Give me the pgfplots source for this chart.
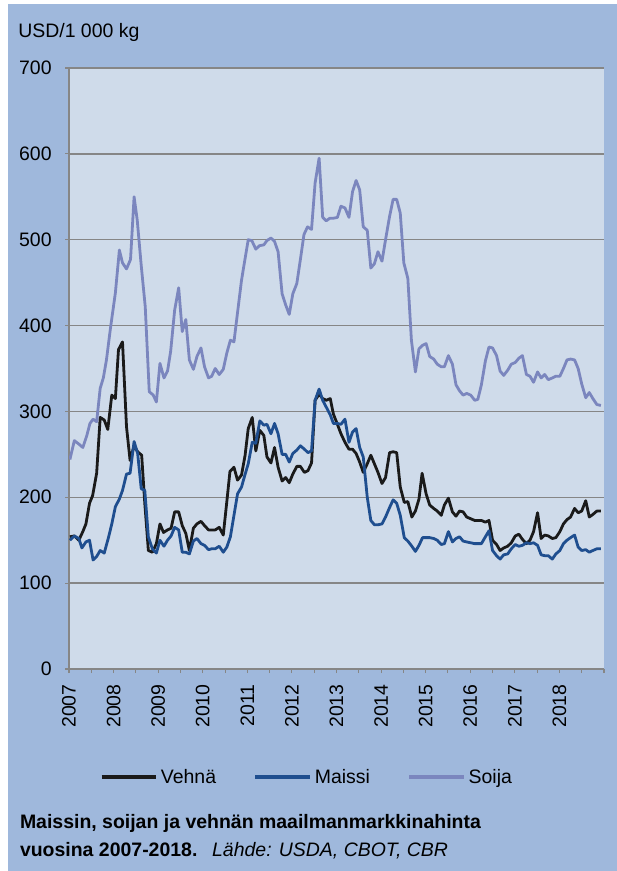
\documentclass[border=0pt]{standalone}
\usepackage{fontspec}
\setmainfont{Liberation Sans}
\usepackage{pgfplots}
\pgfplotsset{compat=1.18}
\definecolor{bgblue}{HTML}{9FB8DC}
\definecolor{plotbg}{HTML}{CFDBEA}
\definecolor{gridgray}{HTML}{868686}
\definecolor{vehna}{HTML}{1A1A1A}
\definecolor{maissi}{HTML}{1F4E8F}
\definecolor{soija}{HTML}{7B86BE}
\newcommand{\lblfont}{\fontsize{14.6}{17}\selectfont}
\begin{document}
\begin{tikzpicture}
\fill[white] (0,0) rectangle (462.75pt,653.25pt);
\fill[bgblue] (6pt,0) rectangle (462.75pt,650.25pt);
\useasboundingbox (0,0) rectangle (462.75pt,653.25pt);
\begin{axis}[
 at={(51.75pt,151.5pt)}, anchor=south west,
 scale only axis, width=401.25pt, height=450.75pt,
 xmin=2007, xmax=2019, ymin=0, ymax=700,
 axis x line*=bottom, axis y line*=left,
 axis line style={gridgray, line width=1.1pt, -},
 axis background/.style={fill=plotbg},
 xtick={2007,2008,2009,2010,2011,2012,2013,2014,2015,2016,2017,2018,2019},
 xticklabels={2007,2008,2009,2010,2011,2012,2013,2014,2015,2016,2017,2018,{}},
 minor xtick={2007.5,2008.5,2009.5,2010.5,2011.5,2012.5,2013.5,2014.5,2015.5,2016.5,2017.5,2018.5},
 ytick={0,100,200,300,400,500,600,700},
 ymajorgrids, grid style={gridgray, line width=1.1pt},
 tick align=outside, major tick length=3pt, minor tick length=3pt,
 tick style={gridgray, line width=0.8pt},
 /pgf/number format/assume math mode=true,
 ticklabel style={font=\lblfont},
 xticklabel style={yshift=-5pt, rotate=90, anchor=east},
 yticklabel style={xshift=-6.5pt, anchor=east},
 legend columns=3,
 legend style={at={(0.445,-0.18)}, anchor=center, draw=none, fill=none, font=\lblfont,
   /tikz/every even column/.append style={column sep=26pt}},
 legend image code/.code={\draw[#1, line width=3pt] (0pt,0pt) -- (41pt,0pt);},
 every axis plot/.append style={line width=2.1pt, line join=round},
]
\addplot[vehna] coordinates {
(2007.02,154)(2007.12,155)(2007.22,150)(2007.31,160)(2007.38,169)(2007.46,193)(2007.53,202)(2007.62,228)
(2007.70,293)(2007.79,290)(2007.87,279)(2007.96,319)(2008.04,315)(2008.11,372)(2008.20,381)(2008.29,282)
(2008.37,243)(2008.46,260)(2008.54,253)(2008.63,249)(2008.70,193)(2008.78,138)(2008.87,136)(2008.96,146)
(2009.04,169)(2009.12,159)(2009.21,162)(2009.29,164)(2009.37,183)(2009.46,183)(2009.54,167)(2009.62,158)
(2009.70,138)(2009.79,164)(2009.87,169)(2009.96,172)(2010.04,167)(2010.13,162)(2010.20,162)(2010.28,162)
(2010.37,165)(2010.46,156)(2010.54,195)(2010.61,230)(2010.70,235)(2010.78,220)(2010.87,226)(2010.95,249)
(2011.02,280)(2011.11,293)(2011.19,254)(2011.28,278)(2011.37,272)(2011.44,247)(2011.53,240)(2011.61,258)
(2011.69,235)(2011.78,219)(2011.86,223)(2011.94,217)(2012.02,227)(2012.11,236)(2012.19,236)(2012.28,229)
(2012.36,231)(2012.44,240)(2012.52,313)(2012.61,320)(2012.69,315)(2012.77,313)(2012.86,315)(2012.93,297)
(2013.02,285)(2013.10,274)(2013.19,264)(2013.28,256)(2013.36,256)(2013.44,251)(2013.52,241)(2013.60,229)
(2013.69,239)(2013.77,249)(2013.85,239)(2013.93,229)(2014.02,216)(2014.10,223)(2014.19,252)(2014.27,253)
(2014.35,252)(2014.43,212)(2014.52,194)(2014.60,195)(2014.69,177)(2014.77,184)(2014.85,198)(2014.92,228)
(2015.01,204)(2015.09,191)(2015.18,187)(2015.26,184)(2015.35,179)(2015.42,191)(2015.51,199)(2015.60,183)
(2015.68,178)(2015.76,184)(2015.84,183)(2015.92,177)(2016.01,175)(2016.10,173)(2016.17,173)(2016.25,173)
(2016.34,171)(2016.42,173)(2016.50,150)(2016.59,145)(2016.67,138)(2016.75,141)(2016.84,143)(2016.92,147)
(2017.01,155)(2017.09,157)(2017.17,151)(2017.26,146)(2017.34,150)(2017.42,160)(2017.51,182)(2017.59,152)
(2017.67,156)(2017.75,155)(2017.84,152)(2017.92,153)(2018.01,160)(2018.09,169)(2018.17,174)(2018.25,177)
(2018.34,187)(2018.42,182)(2018.50,184)(2018.59,196)(2018.67,177)(2018.75,180)(2018.84,184)(2018.93,184)
};
\addlegendentry{Vehnä}
\addplot[maissi] coordinates {
(2007.02,150)(2007.12,155)(2007.22,152)(2007.29,141)(2007.38,148)(2007.46,150)(2007.54,127)(2007.62,131)
(2007.70,138)(2007.79,135)(2007.89,154)(2007.96,169)(2008.04,189)(2008.13,198)(2008.20,208)(2008.29,227)
(2008.37,228)(2008.46,265)(2008.54,251)(2008.62,210)(2008.70,208)(2008.78,154)(2008.87,140)(2008.96,135)
(2009.04,150)(2009.13,143)(2009.21,150)(2009.29,155)(2009.37,165)(2009.46,162)(2009.54,136)(2009.62,136)
(2009.70,134)(2009.79,149)(2009.87,152)(2009.96,146)(2010.04,144)(2010.13,139)(2010.20,140)(2010.28,140)
(2010.37,143)(2010.46,136)(2010.54,142)(2010.62,154)(2010.70,179)(2010.78,204)(2010.87,212)(2010.94,225)
(2011.02,239)(2011.11,264)(2011.19,263)(2011.28,289)(2011.37,284)(2011.44,285)(2011.53,274)(2011.61,286)
(2011.69,274)(2011.78,250)(2011.86,250)(2011.94,241)(2012.02,251)(2012.11,255)(2012.19,260)(2012.28,256)
(2012.36,252)(2012.44,254)(2012.52,313)(2012.61,326)(2012.69,313)(2012.77,305)(2012.86,296)(2012.93,286)
(2013.02,286)(2013.10,285)(2013.19,291)(2013.28,264)(2013.36,276)(2013.44,280)(2013.52,258)(2013.60,247)
(2013.69,200)(2013.77,173)(2013.85,168)(2013.93,168)(2014.02,169)(2014.10,177)(2014.19,188)(2014.27,197)
(2014.35,193)(2014.43,179)(2014.52,153)(2014.60,149)(2014.69,143)(2014.77,137)(2014.85,144)(2014.93,153)
(2015.01,153)(2015.09,153)(2015.18,152)(2015.26,150)(2015.35,145)(2015.42,146)(2015.51,160)(2015.60,148)
(2015.68,152)(2015.76,154)(2015.84,149)(2015.92,148)(2016.01,147)(2016.10,146)(2016.17,146)(2016.25,146)
(2016.34,154)(2016.42,161)(2016.50,138)(2016.59,132)(2016.67,128)(2016.75,133)(2016.84,134)(2016.92,140)
(2017.01,145)(2017.09,143)(2017.17,144)(2017.26,147)(2017.34,146)(2017.42,147)(2017.51,144)(2017.59,133)
(2017.67,132)(2017.75,132)(2017.84,128)(2017.92,134)(2018.01,138)(2018.09,146)(2018.17,150)(2018.25,153)
(2018.34,156)(2018.42,142)(2018.50,138)(2018.59,139)(2018.67,136)(2018.75,138)(2018.84,140)(2018.93,140)
};
\addlegendentry{Maissi}
\addplot[soija] coordinates {
(2007.02,244)(2007.12,266)(2007.22,262)(2007.31,258)(2007.40,272)(2007.47,286)(2007.54,291)(2007.62,288)
(2007.70,327)(2007.77,339)(2007.84,360)(2007.93,397)(2008.04,438)(2008.13,488)(2008.20,473)(2008.29,466)
(2008.38,477)(2008.46,550)(2008.53,523)(2008.62,470)(2008.71,422)(2008.80,323)(2008.89,319)(2008.96,311)
(2009.04,356)(2009.13,339)(2009.21,347)(2009.28,370)(2009.37,418)(2009.46,444)(2009.54,393)(2009.62,407)
(2009.70,360)(2009.79,349)(2009.87,364)(2009.96,374)(2010.04,352)(2010.13,339)(2010.20,341)(2010.28,350)
(2010.37,343)(2010.46,349)(2010.54,368)(2010.62,383)(2010.70,381)(2010.78,415)(2010.87,453)(2010.94,475)
(2011.02,500)(2011.10,499)(2011.19,489)(2011.27,493)(2011.37,494)(2011.44,499)(2011.53,502)(2011.61,498)
(2011.69,486)(2011.78,437)(2011.86,424)(2011.94,413)(2012.02,437)(2012.11,449)(2012.19,477)(2012.27,506)
(2012.35,515)(2012.44,512)(2012.52,566)(2012.61,595)(2012.69,526)(2012.77,522)(2012.85,525)(2012.93,525)
(2013.02,526)(2013.10,539)(2013.19,537)(2013.28,526)(2013.36,556)(2013.44,569)(2013.52,558)(2013.60,515)
(2013.69,511)(2013.77,467)(2013.85,472)(2013.93,486)(2014.02,475)(2014.10,500)(2014.19,527)(2014.27,547)
(2014.35,547)(2014.43,531)(2014.51,473)(2014.60,455)(2014.68,383)(2014.77,346)(2014.85,373)(2014.93,377)
(2015.01,379)(2015.09,364)(2015.18,361)(2015.26,355)(2015.35,352)(2015.42,352)(2015.51,365)(2015.60,355)
(2015.68,331)(2015.76,324)(2015.84,319)(2015.92,321)(2016.01,319)(2016.10,313)(2016.17,314)(2016.25,331)
(2016.34,359)(2016.42,375)(2016.50,374)(2016.59,365)(2016.67,347)(2016.75,342)(2016.84,348)(2016.92,355)
(2017.01,357)(2017.09,362)(2017.17,365)(2017.26,343)(2017.34,341)(2017.42,334)(2017.51,346)(2017.59,339)
(2017.67,343)(2017.75,337)(2017.84,339)(2017.92,341)(2018.01,341)(2018.09,350)(2018.17,360)(2018.25,361)
(2018.34,360)(2018.42,350)(2018.50,332)(2018.59,316)(2018.67,322)(2018.75,315)(2018.84,308)(2018.93,307)
};
\addlegendentry{Soija}
\end{axis}
\node[anchor=base west, inner sep=0pt, font=\lblfont] at (13.5pt,624.75pt) {USD/1 000 kg};
\node[anchor=base west, inner sep=0pt, font=\lblfont\bfseries] at (14.8pt,31.5pt) {Maissin, soijan ja vehnän maailmanmarkkinahinta};
\node[anchor=base west, inner sep=0pt, font=\lblfont] at (14.8pt,10.5pt) {\textbf{vuosina 2007-2018.}\hspace{11pt}\textit{Lähde: USDA, CBOT, CBR}};
\end{tikzpicture}
\end{document}
